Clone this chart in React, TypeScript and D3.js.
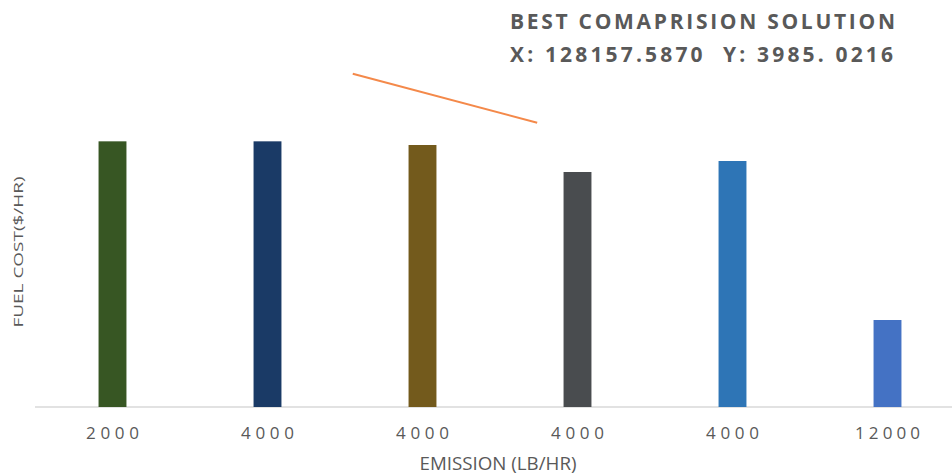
import React from 'react';
import * as d3 from 'd3';

// emission categories (x tick labels) and fuel cost values ($/hr)
const emissionLabels = ['2000', '4000', '4000', '4000', '4000', '12000'];
const fuelCost = [3985, 3985, 3930, 3525, 3690, 1305];
const barColors = ['#375623', '#1A3A66', '#735A1C', '#494C4F', '#2E75B6', '#4472C4'];
// orange trend segment: [category position, fuel cost]
const trendPoints: [number, number][] = [[1.55, 5000], [2.74, 4265]];
const titleLines = ['BEST COMAPRISION SOLUTION', 'X: 128157.5870  Y: 3985. 0216'];

const W = 952;
const H = 476;
const baseY = 407;

export default function App() {
  const idx = emissionLabels.map((_, i) => String(i));
  const x = d3.scaleBand().domain(idx).range([35, 965]).paddingInner(0.82).paddingOuter(0.41);
  const y = d3.scaleLinear().domain([0, 6000]).range([baseY, 7]);
  const xPos = d3.scaleLinear()
    .domain([0, 1])
    .range([x('0')! + x.bandwidth() / 2, x('1')! + x.bandwidth() / 2]);
  const line = d3.line<[number, number]>()
    .x(d => xPos(d[0]))
    .y(d => y(d[1]));
  const grey = '#595959';
  const font = "'Open Sans', sans-serif";

  return (
    <svg width={W} height={H} style={{ position: 'absolute', left: 0, top: 0, background: '#fff' }}
      fontFamily={font}>
      <rect width={W} height={H} fill="#fff" />
      {/* axis base line */}
      <line x1={35} x2={W} y1={baseY} y2={baseY} stroke="#d9d9d9" strokeWidth={1.5} />
      {/* bars */}
      {fuelCost.map((v, i) => (
        <rect key={i} x={x(String(i))} y={y(v)} width={x.bandwidth()} height={baseY - y(v)}
          fill={barColors[i]} />
      ))}
      {/* tick labels */}
      {emissionLabels.map((t, i) => (
        <text key={i} x={x(String(i))! + x.bandwidth() / 2} y={439} textAnchor="middle"
          fontSize={17} fill={grey} textLength={t.length === 5 ? 65 : 53} lengthAdjust="spacing">
          {t}
        </text>
      ))}
      {/* trend line */}
      <path d={line(trendPoints)!} fill="none" stroke="#F4894A" strokeWidth={2} />
      {/* titles */}
      <text x={510} y={29} fontSize={21} fontWeight="bold" fill={grey} textLength={385}
        lengthAdjust="spacing">{titleLines[0]}</text>
      <text x={510} y={62} fontSize={21} fontWeight="bold" fill={grey} textLength={383}
        lengthAdjust="spacing" style={{ whiteSpace: 'pre' }}>{titleLines[1]}</text>
      {/* axis titles */}
      <text x={498} y={470} textAnchor="middle" fontSize={19} fill={grey} textLength={157}
        lengthAdjust="spacingAndGlyphs">EMISSION (LB/HR)</text>
      <text transform="translate(23,252) rotate(-90)" textAnchor="middle" fontSize={13} fill={grey}
        textLength={151} lengthAdjust="spacingAndGlyphs">FUEL COST($/HR)</text>
    </svg>
  );
}
